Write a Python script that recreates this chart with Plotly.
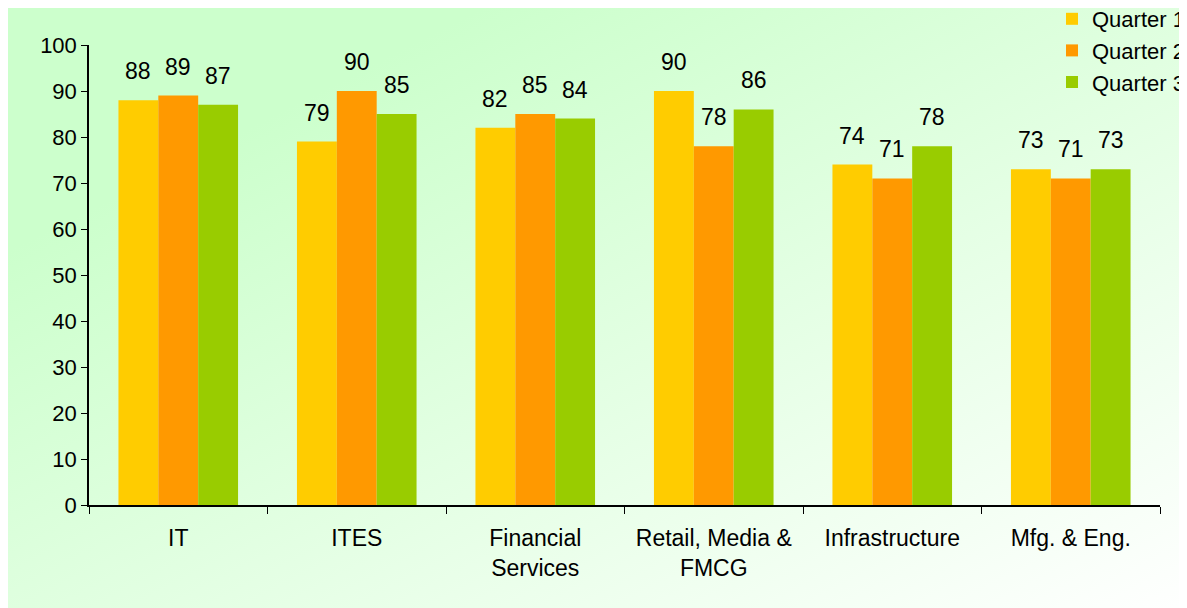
import urllib.parse
import plotly.graph_objects as go

# chart data
sectors = ["IT", "ITES", "Financial<br>Services", "Retail, Media &<br>FMCG",
           "Infrastructure", "Mfg. & Eng."]
quarter1 = [88, 79, 82, 90, 74, 73]
quarter2 = [89, 90, 85, 78, 71, 71]
quarter3 = [87, 85, 84, 86, 78, 73]
series_names = ["Quarter 1", "Quarter 2", "Quarter 3"]
series_colors = ["#FFCC00", "#FF9900", "#99CC00"]

W, H = 1187, 608
# the page body adds an 8px margin, so everything is laid out 8px up/left
L, R, T, B = 81, 35, 37, 111
pw, ph = W - L - R, H - T - B

FONT = "Liberation Sans, Arial, sans-serif"

fig = go.Figure()
for name, vals, col in zip(series_names, [quarter1, quarter2, quarter3], series_colors):
    fig.add_trace(go.Bar(x=sectors, y=vals, name=name,
                         marker=dict(color=col, line=dict(width=0)),
                         legendgroup=name))

# value labels sitting above each bar
bar_px = 40
for k, vals in enumerate([quarter1, quarter2, quarter3]):
    for s, v in zip(sectors, vals):
        fig.add_annotation(x=s, y=v, text=str(v), showarrow=False,
                           xshift=(k - 1) * bar_px, yshift=29,
                           font=dict(size=23, color="black", family=FONT))

# soft diagonal green background, drawn as an svg gradient image
svg = ("<svg xmlns='http://www.w3.org/2000/svg' width='100' height='100' preserveAspectRatio='none'>"
       "<defs><linearGradient id='g' x1='0' y1='0' x2='1' y2='1'>"
       "<stop offset='0' stop-color='#ccffcc'/><stop offset='0.2' stop-color='#ccffcc'/>"
       "<stop offset='1' stop-color='#ffffff'/>"
       "</linearGradient></defs><rect width='100' height='100' fill='url(#g)'/></svg>")
src = "data:image/svg+xml;charset=utf-8," + urllib.parse.quote(svg)
fig.add_layout_image(dict(source=src, xref="paper", yref="paper",
                          x=-L / pw, y=1 + T / ph, sizex=W / pw, sizey=H / ph,
                          sizing="stretch", xanchor="left", yanchor="top", layer="below"))

fig.update_layout(
    width=W, height=H,
    margin=dict(l=L, r=R, t=T, b=B, autoexpand=False),
    paper_bgcolor="white",
    plot_bgcolor="rgba(0,0,0,0)",
    font=dict(family=FONT, size=22, color="black"),
    barmode="group",
    bargap=0.33,
    bargroupgap=0,
    legend=dict(x=(1044 - L) / pw, y=1 + (T + 10) / ph,
                xanchor="left", yanchor="top", bgcolor="rgba(0,0,0,0)",
                font=dict(size=22), tracegroupgap=0),
    xaxis=dict(showline=True, linecolor="black", linewidth=1.5, ticks="outside",
               tickson="boundaries", ticklen=7, tickcolor="black", showgrid=False,
               tickangle=0, ticklabelstandoff=12, tickfont=dict(size=23)),
    yaxis=dict(range=[0, 100], dtick=10, showline=True, linecolor="black", linewidth=1.5,
               ticks="outside", ticklen=6, tickcolor="black", showgrid=False,
               zeroline=False, tickfont=dict(size=22)),
)

fig.write_html("out.html")
